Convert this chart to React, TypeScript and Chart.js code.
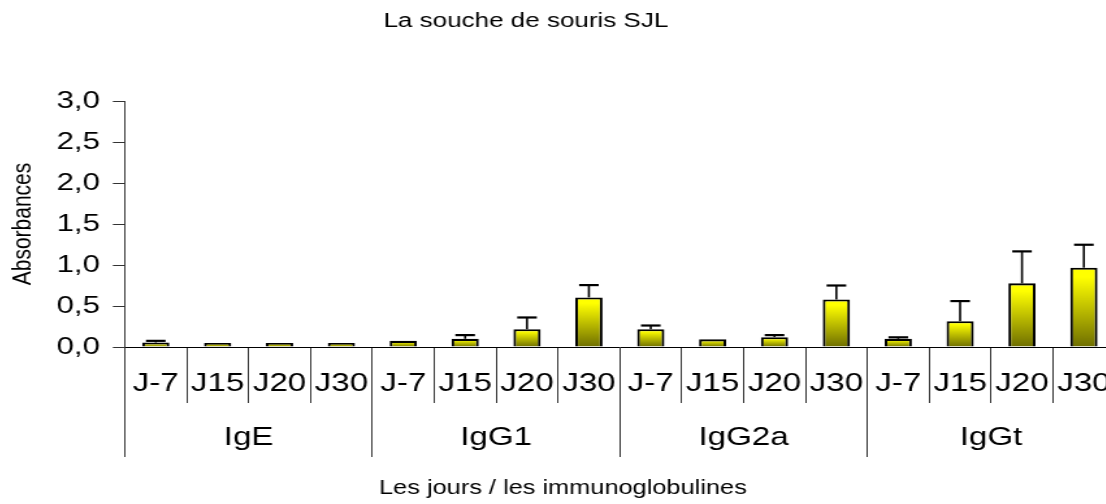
import { useEffect, useRef } from 'react';
import { Chart, registerables } from 'chart.js';

Chart.register(...registerables);

// ---- data ----
const days = ['J-7', 'J15', 'J20', 'J30'];
const groups = ['IgE', 'IgG1', 'IgG2a', 'IgGt'];

const igE = [0.055, 0.05, 0.05, 0.05];
const igEErr = [0.02, 0, 0, 0];
const igG1 = [0.075, 0.1, 0.217, 0.605];
const igG1Err = [0, 0.045, 0.143, 0.15];
const igG2a = [0.217, 0.094, 0.12, 0.58];
const igG2aErr = [0.045, 0, 0.025, 0.17];
const igGt = [0.1, 0.315, 0.776, 0.967];
const igGtErr = [0.018, 0.245, 0.39, 0.28];

const yMin = 0;
const yMax = 3;
const yStep = 0.5;

const titleText = 'La souche de souris SJL';
const xTitleText = 'Les jours / les immunoglobulines';
const yTitleText = 'Absorbances';

// ---- derived ----
const labels = groups.flatMap(() => days);
const values = [...igE, ...igG1, ...igG2a, ...igGt];
const errors = [...igEErr, ...igG1Err, ...igG2aErr, ...igGtErr];

const FAMILY = "'Liberation Sans', Arial, Helvetica, sans-serif";

const errorBarsPlugin = {
  id: 'errorBars',
  afterDatasetsDraw(chart: any) {
    const meta = chart.getDatasetMeta(0);
    const y = chart.scales.y;
    const ctx = chart.ctx;
    ctx.save();
    ctx.strokeStyle = '#000';
    meta.data.forEach((el: any, i: number) => {
      const e = errors[i];
      if (!e) return;
      const top = y.getPixelForValue(values[i]);
      const end = y.getPixelForValue(values[i] + e);
      const half = el.width * 0.36;
      ctx.lineWidth = 1.6;
      ctx.beginPath();
      ctx.moveTo(el.x, top);
      ctx.lineTo(el.x, end);
      ctx.stroke();
      ctx.lineWidth = 2.2;
      ctx.beginPath();
      ctx.moveTo(el.x - half, end);
      ctx.lineTo(el.x + half, end);
      ctx.stroke();
    });
    ctx.restore();
  },
};

const xTitlePlugin = {
  id: 'xTitle',
  afterDraw(chart: any) {
    const { ctx, chartArea } = chart;
    const x2 = chart.scales.x2;
    ctx.save();
    ctx.fillStyle = '#000';
    ctx.font = `19.5px ${FAMILY}`;
    ctx.textAlign = 'center';
    ctx.textBaseline = 'middle';
    ctx.fillText(xTitleText, chartArea.left + 0.4425 * chartArea.width, x2.bottom - 15);
    ctx.restore();
  },
};

export default function App() {
  const ref = useRef<HTMLCanvasElement>(null);

  useEffect(() => {
    const canvas = ref.current;
    if (!canvas) return;
    const chart = new Chart(canvas, {
      type: 'bar',
      data: {
        labels,
        datasets: [
          {
            data: values,
            borderColor: '#000',
            borderWidth: 2.1,
            barPercentage: 0.44,
            categoryPercentage: 1,
            backgroundColor: (c: any) => {
              const ch = c.chart;
              if (!ch.chartArea || c.raw === undefined) return '#e0e000';
              const ys = ch.scales.y;
              const top = ys.getPixelForValue(c.raw);
              const bot = ys.getPixelForValue(0);
              const g = ch.ctx.createLinearGradient(0, top, 0, Math.max(bot, top + 1));
              g.addColorStop(0, '#ffff00');
              g.addColorStop(0.12, '#ffff00');
              g.addColorStop(1, '#6e6e00');
              return g;
            },
          },
        ],
      },
      options: {
        responsive: false,
        animation: false,
        layout: { padding: 0 },
        plugins: {
          legend: { display: false },
          tooltip: { enabled: false },
          title: {
            display: true,
            text: titleText,
            color: '#000',
            font: { family: FAMILY, size: 20, weight: 'normal' },
            padding: { top: 9.5, bottom: 67.5 },
          },
        },
        scales: {
          x: {
            type: 'category',
            position: 'bottom',
            weight: 0,
            offset: true,
            grid: { offset: true, drawOnChartArea: false, drawTicks: true, tickLength: 56, color: '#333', lineWidth: 1 },
            border: { display: true, color: '#000', width: 1 },
            ticks: { autoSkip: false, maxRotation: 0, minRotation: 0, padding: -34, color: '#000', font: { family: FAMILY, size: 25.5 } },
            afterFit: (s: any) => { s.height = 56; },
          },
          x2: {
            type: 'category',
            position: 'bottom',
            weight: 1,
            labels: groups,
            offset: true,
            grid: { offset: true, drawOnChartArea: false, drawTicks: true, tickLength: 54, color: '#333', lineWidth: 1 },
            border: { display: false },
            ticks: { autoSkip: false, maxRotation: 0, minRotation: 0, padding: -34, color: '#000', font: { family: FAMILY, size: 25.5 } },
            afterFit: (s: any) => { s.height = 101; },
          },
          y: {
            type: 'linear',
            min: yMin,
            max: yMax,
            ticks: {
              stepSize: yStep,
              padding: 10,
              color: '#000',
              font: { family: FAMILY, size: 24 },
              callback: (v: any) => Number(v).toFixed(1).replace('.', ','),
            },
            grid: { drawOnChartArea: false, drawTicks: true, tickLength: 9.2, color: '#333' },
            border: { display: true, color: '#333', width: 1 },
            title: {
              display: true,
              text: yTitleText,
              color: '#000',
              font: { family: FAMILY, size: 21 },
              padding: { top: 53.5, bottom: 0 },
            },
            afterFit: (s: any) => { s.width = 144.5; },
          },
        },
      },
      plugins: [errorBarsPlugin, xTitlePlugin],
    } as any);
    return () => chart.destroy();
  }, []);

  return (
    <div style={{ position: 'absolute', left: 0, top: 0, width: 1106, height: 504, overflow: 'hidden', background: '#fff' }}>
      <canvas
        ref={ref}
        width={906}
        height={504}
        style={{ position: 'absolute', left: -62.9, top: 0, transform: 'scaleX(1.3)', transformOrigin: '0 0' }}
      />
    </div>
  );
}
